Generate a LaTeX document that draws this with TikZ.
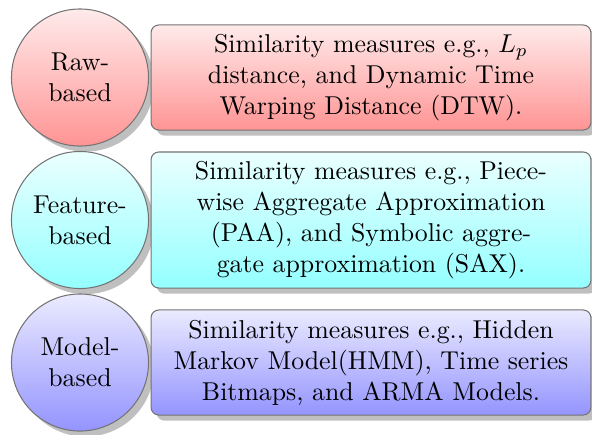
\documentclass[tikz,border=0pt]{standalone}
\usetikzlibrary{shadows}
\begin{document}
\begin{tikzpicture}[x=0.3874pt, y=-0.3874pt,
  catcircle/.style={circle, draw=black!55, line width=0.4pt, minimum size=53.1pt,
    inner sep=0pt, align=center, drop shadow, font=\fontsize{10}{12}\selectfont},
  descbox/.style={rectangle, rounded corners=3pt, draw=black!55, line width=0.4pt,
    minimum width=170.4pt, inner sep=0pt, align=center, drop shadow,
    font=\fontsize{10}{12}\selectfont},
  redfill/.style={top color=red!8, bottom color=red!42},
  cyanfill/.style={top color=cyan!8, bottom color=cyan!42},
  bluefill/.style={top color=blue!8, bottom color=blue!42}]
  \useasboundingbox (0,0) rectangle (592,434);

  % raw-based row
  \node[catcircle, redfill] (raw) at (80,77.5) {Raw-\\based};
  \node[descbox, redfill, minimum height=40.7pt] (rawtext) at (371,77.5)
    {Similarity measures e.g., $L_p$\\distance, and Dynamic Time\\Warping Distance (DTW).};

  % feature-based row
  \node[catcircle, cyanfill] (feat) at (80,220) {Feature-\\based};
  \node[descbox, cyanfill, minimum height=52.7pt] (feattext) at (371,220)
    {Similarity measures e.g., Piece-\\wise Aggregate Approximation\\(PAA), and Symbolic aggre-\\gate approximation (SAX).};

  % model-based row
  \node[catcircle, bluefill] (model) at (80,362.5) {Model-\\based};
  \node[descbox, bluefill, minimum height=40.7pt] (modeltext) at (371,362.5)
    {Similarity measures e.g., Hidden\\Markov Model(HMM), Time series\\Bitmaps, and ARMA Models.};
\end{tikzpicture}
\end{document}
